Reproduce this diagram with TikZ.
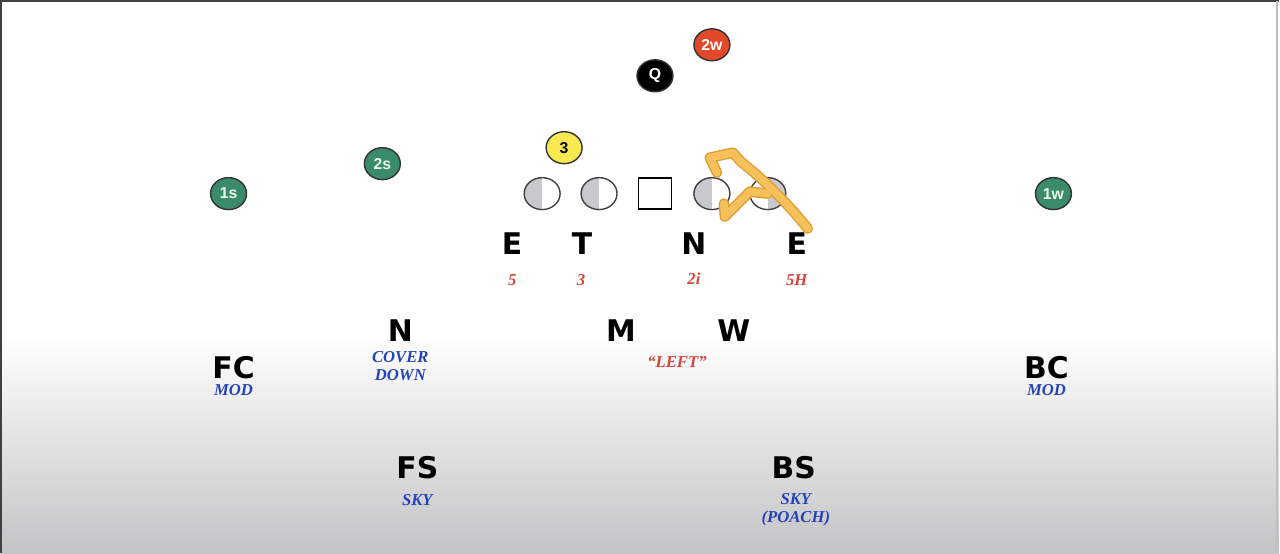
\documentclass[tikz,border=0pt]{standalone}
\usepackage{fontspec}
\setmainfont{Liberation Serif}
\setsansfont{Liberation Sans}
\newfontfamily\heavysans{DejaVu Sans}
\usetikzlibrary{shapes.geometric}
\definecolor{bgbot}{HTML}{C4C4C6}
\definecolor{olgray}{HTML}{C9C9CD}
\definecolor{wrgreen}{HTML}{3A8B69}
\definecolor{wrred}{HTML}{E2492A}
\definecolor{wryellow}{HTML}{F7EA50}
\definecolor{noteblue}{HTML}{2443B8}
\definecolor{notered}{HTML}{D5453A}
\definecolor{penedge}{HTML}{DE9C32}
\definecolor{penfill}{HTML}{F6C15A}
\tikzset{
  player/.style={ellipse, draw=black!80, line width=0.8pt, inner sep=0pt,
                 minimum width=7.2mm, minimum height=6.4mm,
                 font=\sffamily\bfseries\fontsize{9}{9}\selectfont},
  greenman/.style={player, fill=wrgreen, text=green!8},
  redman/.style={player, fill=wrred, text=white},
  qbman/.style={player, fill=black, text=white},
  yellowman/.style={player, fill=wryellow, text=black},
  lineman/.style={ellipse, draw=black!75, line width=0.8pt, fill=white,
                  minimum width=7.2mm, minimum height=6.4mm, inner sep=0pt},
  linemanL/.style={lineman, path picture={\fill[olgray] (path picture bounding box.south west)
                   rectangle (path picture bounding box.north);}},
  linemanR/.style={lineman, path picture={\fill[olgray] (path picture bounding box.south)
                   rectangle (path picture bounding box.north east);}},
  centerbox/.style={rectangle, draw=black, line width=0.9pt, fill=white,
                    minimum width=6.6mm, minimum height=6.2mm, inner sep=0pt},
  defpos/.style={inner sep=0pt, font=\heavysans\bfseries\fontsize{17}{17}\selectfont},
  bluenote/.style={inner sep=0pt, align=center, text=noteblue,
                   font=\rmfamily\bfseries\itshape\fontsize{9.5}{10.4}\selectfont},
  rednote/.style={bluenote, text=notered},
  penedge/.style={draw=penedge, line width=6pt, line cap=round, line join=round},
  penfill/.style={draw=penfill, line width=4.4pt, line cap=round, line join=round},
}
\begin{document}
\begin{tikzpicture}[x=0.02cm, y=-0.02cm]
    % field background
    \fill[white] (0,0) rectangle (1280,553);
    \shade[top color=white, bottom color=bgbot] (0,335) rectangle (1280,553);
    \draw[black!75, line width=1pt] (0,553) -- (0,0) -- (1280,0);
    \draw[black!25, line width=1pt] (1278,0) -- (1278,553);
    % offense
    \node[redman]    (twow)  at (712,44)  {2w};
    \node[qbman]     (qb)    at (655,75)  {Q};
    \node[yellowman] (three) at (564,147) {3};
    \node[greenman]  (twos)  at (382,163) {2s};
    \node[greenman]  (ones)  at (228,193) {1s};
    \node[greenman]  (onew)  at (1054,193) {1w};
    \node[linemanL]  (ol1) at (542,193) {};
    \node[linemanL]  (ol2) at (599,193) {};
    \node[centerbox] (ctr) at (655,193) {};
    \node[linemanL]  (ol4) at (712,193) {};
    \node[linemanR]  (ol5) at (768,193) {};
    % front
    \node[defpos] (de1) at (512,243) {E};
    \node[defpos] (dt)  at (582,243) {T};
    \node[defpos] (dn)  at (694,243) {N};
    \node[defpos] (de2) at (797,243) {E};
    \node[rednote] (tech1) at (512,280) {5};
    \node[rednote] (tech2) at (581,280) {3};
    \node[rednote] (tech3) at (694,278) {2i};
    \node[rednote] (tech4) at (797,280) {5H};
    % second level
    \node[defpos] (nick) at (400,330) {N};
    \node[defpos] (mike) at (621,330) {M};
    \node[defpos] (will) at (734,330) {W};
    \node[bluenote] (nicknote) at (400,366) {COVER\\DOWN};
    \node[rednote]  (mwnote)   at (677,362) {``LEFT''};
    \node[defpos] (fc) at (233,367) {FC};
    \node[defpos] (bc) at (1047,367) {BC};
    \node[bluenote] (fcnote) at (233,390) {MOD};
    \node[bluenote] (bcnote) at (1047,390) {MOD};
    % safeties
    \node[defpos] (fs) at (417,467) {FS};
    \node[defpos] (bs) at (794,467) {BS};
    \node[bluenote] (fsnote) at (417,500) {SKY};
    \node[bluenote] (bsnote) at (796,509.5) {SKY\\(POACH)};
    % pen marks over the right side
    \coordinate (endtip) at (710,157);
    \coordinate (wtip)   at (725,216);
    \foreach \pen in {penedge,penfill}{
      \draw[\pen] (808,228) .. controls (788,203) and (764,179) .. (741,161)
                  -- (733,152) -- (endtip) -- (717,172);
      \draw[\pen] (768,193) -- (750,191) -- (wtip) -- (724,203);
    }
\end{tikzpicture}
\end{document}
